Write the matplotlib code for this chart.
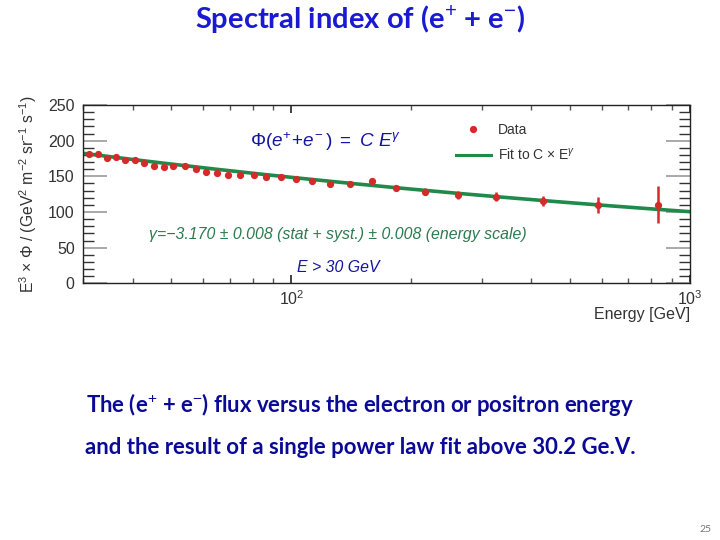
import numpy as np
import matplotlib
matplotlib.use("Agg")
import matplotlib.pyplot as plt
from matplotlib.ticker import FixedLocator, NullFormatter, MultipleLocator
from matplotlib.lines import Line2D

plt.rcParams["mathtext.fontset"] = "custom"
plt.rcParams["mathtext.it"] = "Liberation Sans:italic"
plt.rcParams["mathtext.rm"] = "Liberation Sans"
plt.rcParams["mathtext.sf"] = "Liberation Sans"

# ---- data ----
energy = [31.0, 32.8, 34.4, 36.3, 38.3, 40.5, 42.7, 45.3, 48.0, 50.6, 54.1, 57.5,
          61.0, 65.1, 69.4, 74.4, 80.4, 86.5, 94.4, 102.5, 112.9, 124.8, 140.0,
          159.1, 183.5, 216.3, 261.4, 326.8, 427.7, 587.8, 831.0]
flux_e3 = [181.3, 180.9, 175.7, 176.7, 172.9, 172.5, 168.3, 164.5, 162.7, 164.5, 164.1, 160.7,
           155.7, 154.3, 152.3, 151.5, 151.9, 148.7, 148.7, 145.9, 143.1, 139.8, 139.8,
           143.9, 134.1, 128.5, 123.8, 121.5, 115.4, 109.8, 110.2]
flux_err = [1.0, 1.0, 1.0, 1.0, 1.0, 1.0, 1.0, 1.0, 1.0, 1.0, 1.0, 1.0,
            1.2, 1.2, 1.2, 1.3, 1.3, 1.4, 1.5, 1.6, 1.8, 2.0, 2.2,
            2.5, 3.0, 4.7, 5.0, 6.3, 7.5, 11.7, 26.0]
fit_gamma = -3.170
fit_C = 325.0
fit_range = [30.0, 1000.0]

W, H = 720, 540
fig = plt.figure(figsize=(7.2, 5.4), dpi=100)
fig.patch.set_facecolor("white")

def fx(x):
    return x / W

def fy(y):
    return 1 - y / H

left, right, top, bottom = 83, 690, 105, 283.3
ax = fig.add_axes([fx(left), fy(bottom), (right - left) / W, (bottom - top) / H])

red = "#d42a2a"
green = "#1f8a4a"
navy = "#1414a0"

Efit = np.logspace(np.log10(fit_range[0]), np.log10(fit_range[1]), 200)
ax.plot(Efit, fit_C * Efit ** (fit_gamma + 3), color=green, lw=2.6, zorder=2)
ax.errorbar(energy, flux_e3, yerr=flux_err, fmt="o", color=red, ms=4.2,
            elinewidth=1.8, capsize=0, zorder=3)

ax.set_xscale("log")
ax.set_xlim(30, 1000)
ax.set_ylim(0, 250)

# ticks ROOT style
ax.xaxis.set_major_locator(FixedLocator([100, 1000]))
minors = [v * d for d in (10, 100) for v in range(2, 10)]
ax.xaxis.set_minor_locator(FixedLocator([m for m in minors if 30 <= m <= 1000]))
ax.xaxis.set_minor_formatter(NullFormatter())
ax.set_xticklabels([r"$10^2$", r"$10^3$"])
ax.yaxis.set_major_locator(MultipleLocator(50))
ax.yaxis.set_minor_locator(MultipleLocator(10))
ax.tick_params(axis="both", which="both", direction="in", top=True, right=True)
ax.tick_params(axis="y", which="major", length=17, width=1.2, color="#999999",
               labelsize=11.5, labelcolor="#333333", pad=6)
ax.tick_params(axis="y", which="minor", length=8, width=1.0, color="#333333")
ax.tick_params(axis="x", which="major", length=6, width=1.2, color="#222222",
               labelsize=11.5, labelcolor="#333333", pad=4)
ax.tick_params(axis="x", which="minor", length=3.5, width=1.0, color="#555555")
for lab in ax.get_xticklabels() + ax.get_yticklabels():
    lab.set_family("Liberation Sans")
for s in ax.spines.values():
    s.set_color("#222222")
    s.set_linewidth(1.0)

fig.text(fx(28), fy(194), r"E$^3$ $\times$ $\Phi$ / (GeV$^2$ m$^{-2}$ sr$^{-1}$ s$^{-1}$)",
         rotation=90, ha="center", va="center", fontsize=11.3, color="#333333",
         family="Liberation Sans")
fig.text(fx(690), fy(315), "Energy [GeV]", ha="right", va="center", fontsize=11.5,
         color="#333333", family="Liberation Sans")

# legend
leg_handles = [Line2D([], [], marker="o", ls="none", color=red, ms=4.2),
               Line2D([], [], color=green, lw=2.2)]
leg = fig.legend(leg_handles, ["Data", r"Fit to C $\times$ E$^{\gamma}$"],
                 loc="upper left", bbox_to_anchor=(fx(456), fy(123)),
                 frameon=False, handlelength=2.5, handletextpad=0.5,
                 labelspacing=0.7, borderpad=0, borderaxespad=0,
                 prop={"family": "Liberation Sans", "size": 10})
for t in leg.get_texts():
    t.set_color("#333333")

fig.text(fx(250), fy(142), r"$\mathit{Φ(e^{+}\!+\!e^{-}\,)\ =\ C\ E^{γ}}$",
         ha="left", va="center", fontsize=13.6, color=navy)
fig.text(fx(338), fy(234), "γ=−3.170 ± 0.008 (stat + syst.) ± 0.008 (energy scale)",
         ha="center", va="center", fontsize=11.4, color="#2e7a4e",
         family="Liberation Sans", style="italic")
fig.text(fx(338), fy(267), "E > 30 GeV", ha="center", va="center", fontsize=11.4,
         color=navy, family="Liberation Sans", style="italic")

# slide texts
fig.text(fx(360), fy(20), r"Spectral index of (e$^{+}$ + e$^{-}$)", ha="center", va="center",
         fontsize=21, fontweight="bold", color="#1a1ad2", family="Lato")
fig.text(fx(360), fy(404), r"The (e$^{+}$ + e$^{-}$) flux versus the electron or positron energy",
         ha="center", va="center", fontsize=15.9, fontweight="bold", color="#0a0a96", family="Lato")
fig.text(fx(360), fy(447), "and the result of a single power law fit above 30.2 Ge.V.",
         ha="center", va="center", fontsize=15.9, fontweight="bold", color="#0a0a96", family="Lato")
fig.text(fx(705), fy(530), "25", ha="center", va="center", fontsize=7.5, color="#777777",
         family="Lato")

fig.savefig("out.png", dpi=100, facecolor="white")
